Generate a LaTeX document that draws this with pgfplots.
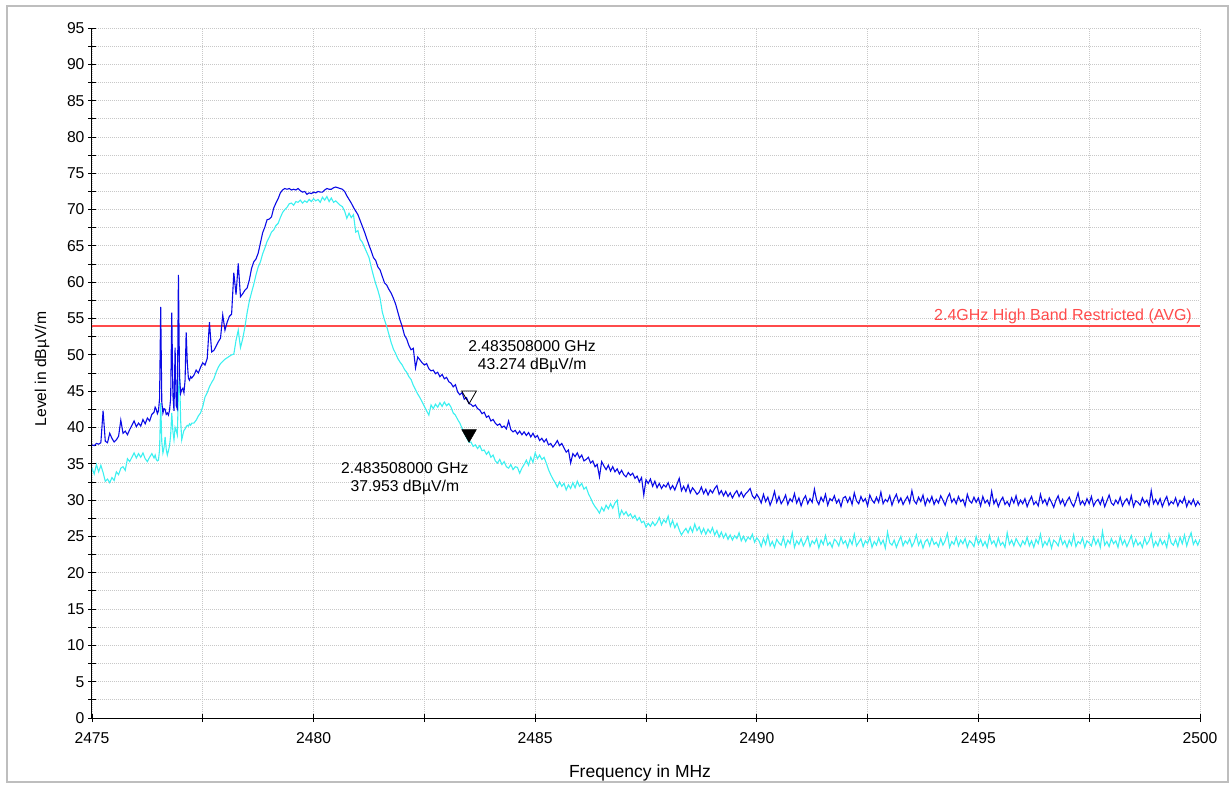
\documentclass[border=0pt]{standalone}
\usepackage{fontspec}
\setmainfont{Liberation Sans}
\usepackage{pgfplots}
\usepackage{pgfplotstable}
\pgfplotsset{compat=1.18}

\definecolor{tracepk}{RGB}{10,10,230}
\definecolor{traceav}{RGB}{60,240,240}
\definecolor{limitred}{RGB}{255,75,75}
\definecolor{gridgray}{RGB}{200,200,200}
\definecolor{framegray}{RGB}{190,190,190}

% f [MHz], b = peak trace, c = average trace [dBuV/m]
\pgfplotstableread{
f b c
2475.00 37.6 34.4
2475.05 37.5 33.6
2475.10 37.8 34.9
2475.15 37.7 33.9
2475.20 37.9 34.8
2475.25 42.3 33.8
2475.30 38.1 32.6
2475.35 37.9 32.9
2475.40 39.2 32.4
2475.45 38.5 33.1
2475.50 38.0 32.7
2475.55 38.3 33.9
2475.60 38.8 33.5
2475.65 41.0 34.4
2475.70 39.2 34.6
2475.75 39.5 34.1
2475.80 39.0 35.7
2475.85 39.7 35.3
2475.90 40.3 35.9
2475.95 40.9 36.5
2476.00 40.1 35.8
2476.05 40.6 36.4
2476.10 40.2 35.9
2476.15 41.1 36.5
2476.20 40.5 35.7
2476.25 41.3 35.3
2476.30 40.9 35.9
2476.35 41.8 36.4
2476.40 42.1 35.8
2476.425 42.8 36.2
2476.450 42.5 35.6
2476.475 41.9 35.4
2476.500 42.3 35.5
2476.525 44.0 37.0
2476.550 56.6 43.4
2476.575 43.5 38.0
2476.600 42.0 36.5
2476.625 42.6 37.2
2476.650 42.5 38.7
2476.675 41.8 37.0
2476.700 42.0 36.2
2476.725 41.7 36.8
2476.750 42.4 37.5
2476.775 44.0 39.0
2476.800 55.8 42.0
2476.825 44.5 39.5
2476.850 42.3 38.3
2476.875 51.0 40.0
2476.900 43.0 39.6
2476.925 42.6 39.0
2476.950 61.0 44.7
2476.975 47.0 47.6
2477.000 44.7 41.0
2477.025 45.2 38.3
2477.050 45.4 39.0
2477.075 44.8 39.6
2477.100 46.5 39.8
2477.125 53.1 40.1
2477.150 49.0 40.3
2477.175 46.8 40.2
2477.200 46.5 40.5
2477.225 47.0 40.3
2477.250 46.8 40.6
2477.30 47.2 40.6
2477.35 47.9 41.0
2477.40 47.5 41.6
2477.45 48.3 42.0
2477.50 48.9 42.9
2477.55 48.6 44.2
2477.60 49.5 44.8
2477.65 54.5 45.6
2477.70 50.4 46.2
2477.75 50.6 46.7
2477.80 51.2 47.6
2477.85 51.8 48.3
2477.90 52.3 48.8
2477.95 55.5 49.1
2478.00 53.4 49.4
2478.05 54.5 49.6
2478.10 55.3 49.8
2478.15 55.6 50.0
2478.20 61.3 50.1
2478.25 58.3 52.0
2478.30 62.6 53.4
2478.35 58.0 51.0
2478.40 58.4 52.2
2478.45 58.9 53.8
2478.50 59.2 55.8
2478.55 60.3 57.4
2478.60 61.9 58.6
2478.65 62.8 59.7
2478.70 63.2 61.0
2478.75 64.0 62.1
2478.80 65.4 62.8
2478.85 66.8 63.9
2478.90 67.6 64.7
2478.95 68.6 65.6
2479.00 68.7 66.2
2479.05 69.0 66.9
2479.10 70.2 67.2
2479.15 70.9 67.8
2479.20 71.5 68.1
2479.25 72.3 68.9
2479.30 72.7 69.6
2479.35 72.9 70.0
2479.40 72.8 70.3
2479.45 72.9 70.8
2479.50 72.7 70.9
2479.55 72.8 70.6
2479.60 72.7 71.1
2479.65 72.9 71.0
2479.70 72.6 71.3
2479.75 72.4 70.9
2479.80 72.5 71.2
2479.85 72.1 71.0
2479.90 72.3 71.4
2479.95 72.2 71.1
2480.00 72.4 71.5
2480.05 72.3 71.2
2480.10 72.5 71.4
2480.15 72.4 71.0
2480.20 72.4 71.7
2480.25 72.7 71.3
2480.30 72.9 71.8
2480.35 72.8 71.1
2480.40 72.8 71.6
2480.45 73.0 71.0
2480.50 73.1 71.2
2480.55 73.0 70.9
2480.60 72.9 70.6
2480.65 72.8 70.4
2480.70 72.5 69.8
2480.75 71.9 68.8
2480.80 71.4 69.5
2480.85 70.9 68.9
2480.90 70.3 69.3
2480.95 69.8 66.9
2481.00 69.3 67.1
2481.05 68.5 65.9
2481.10 67.7 65.5
2481.15 66.9 64.8
2481.20 66.0 64.1
2481.25 65.1 63.4
2481.30 64.3 62.1
2481.35 63.4 60.9
2481.40 63.0 59.8
2481.45 62.1 58.9
2481.50 61.7 57.8
2481.55 60.8 55.9
2481.60 59.9 54.8
2481.65 59.6 53.9
2481.70 59.0 52.8
2481.75 58.5 51.7
2481.80 57.8 50.8
2481.85 57.0 50.2
2481.90 55.9 49.5
2481.95 54.8 49.0
2482.00 53.9 48.6
2482.05 52.7 48.0
2482.10 52.2 47.6
2482.15 51.3 47.0
2482.20 50.7 46.6
2482.25 50.9 45.8
2482.30 48.2 45.2
2482.35 49.7 44.6
2482.40 49.3 44.1
2482.45 48.9 43.5
2482.50 48.6 42.9
2482.55 48.8 42.3
2482.60 48.1 41.7
2482.65 47.8 43.1
2482.70 47.9 42.6
2482.75 47.4 43.2
2482.80 47.6 42.8
2482.85 47.0 43.4
2482.90 47.3 42.9
2482.95 46.7 43.5
2483.00 46.9 43.0
2483.05 46.3 43.3
2483.10 46.1 42.8
2483.15 45.6 42.0
2483.20 45.9 41.7
2483.25 44.9 41.1
2483.30 44.5 40.6
2483.35 44.8 39.9
2483.40 43.9 39.2
2483.45 44.1 38.6
2483.508 43.274 37.953
2483.55 43.2 38.0
2483.60 42.9 37.4
2483.65 43.1 37.6
2483.70 42.6 37.1
2483.75 42.4 37.5
2483.80 41.9 36.8
2483.85 42.1 36.9
2483.90 41.4 36.3
2483.95 41.6 36.7
2484.00 40.9 35.9
2484.05 41.1 36.2
2484.10 40.6 35.4
2484.15 40.3 35.1
2484.20 40.5 35.6
2484.25 40.0 34.9
2484.30 40.2 35.3
2484.35 39.8 34.6
2484.40 40.9 34.4
2484.45 39.7 34.9
2484.50 39.4 34.2
2484.55 39.6 34.6
2484.60 39.1 34.5
2484.65 39.5 33.7
2484.70 39.0 34.4
2484.75 39.4 34.9
2484.80 38.9 35.5
2484.85 39.3 34.8
2484.90 38.7 35.9
2484.95 39.2 35.2
2485.00 38.6 36.5
2485.05 38.9 35.7
2485.10 38.2 36.2
2485.15 38.5 35.6
2485.20 38.0 35.9
2485.25 38.4 35.1
2485.30 37.6 34.2
2485.35 37.8 33.5
2485.40 37.3 32.9
2485.45 37.7 32.4
2485.50 38.2 31.8
2485.55 37.5 32.5
2485.60 37.8 31.9
2485.65 37.2 32.3
2485.70 36.6 31.4
2485.75 36.9 32.1
2485.80 35.1 31.6
2485.85 36.4 32.4
2485.90 36.0 31.7
2485.95 36.5 32.6
2486.00 35.8 31.9
2486.05 36.2 32.3
2486.10 35.4 31.5
2486.15 35.6 31.8
2486.20 35.9 30.9
2486.25 35.1 30.3
2486.30 35.4 29.6
2486.35 34.6 29.1
2486.40 34.9 28.7
2486.45 33.2 28.2
2486.50 35.3 29.0
2486.55 34.7 28.5
2486.60 34.2 29.3
2486.65 34.8 28.8
2486.70 34.0 29.5
2486.75 34.6 28.9
2486.80 33.9 29.6
2486.85 34.3 30.0
2486.90 33.6 27.7
2486.95 34.1 28.6
2487.00 33.5 28.0
2487.05 33.2 28.4
2487.10 33.8 27.8
2487.15 33.4 28.1
2487.20 33.7 27.5
2487.25 33.0 27.9
2487.30 33.3 27.2
2487.35 32.5 27.6
2487.40 33.1 26.9
2487.45 30.7 27.1
2487.50 32.8 26.3
2487.55 32.3 26.8
2487.60 32.9 26.4
2487.65 31.9 27.0
2487.70 32.6 26.5
2487.75 31.7 26.9
2487.80 32.3 27.6
2487.85 31.6 26.6
2487.90 32.1 27.3
2487.95 31.8 26.9
2488.00 32.4 27.8
2488.05 31.5 26.4
2488.10 32.0 27.2
2488.15 31.4 26.2
2488.20 32.2 26.8
2488.25 33.0 25.9
2488.30 31.3 25.2
2488.35 31.9 25.7
2488.40 31.2 26.1
2488.45 32.1 25.5
2488.50 31.0 26.3
2488.55 31.7 25.6
2488.60 31.3 26.7
2488.65 30.8 25.8
2488.70 31.1 26.3
2488.75 31.8 25.4
2488.80 30.9 26.1
2488.85 31.5 25.3
2488.90 30.7 26.0
2488.95 31.4 25.5
2489.00 31.0 26.2
2489.05 31.6 25.2
2489.10 32.0 25.8
2489.15 30.8 24.9
2489.20 31.3 25.6
2489.25 30.6 24.8
2489.30 31.2 25.4
2489.35 30.5 24.6
2489.40 31.0 25.2
2489.45 30.3 24.5
2489.50 30.9 25.1
2489.55 31.3 24.7
2489.60 30.5 25.5
2489.65 31.1 24.4
2489.70 30.4 25.0
2489.75 30.9 24.3
2489.80 31.2 24.9
2489.85 31.6 24.6
2489.90 30.6 25.3
2489.95 30.2 24.2
2490.00 30.8 24.8
2490.05 30.3 24.4
2490.10 29.6 23.6
2490.15 30.8 24.7
2490.20 29.8 23.9
2490.25 30.4 25.2
2490.30 29.3 23.7
2490.35 30.1 24.3
2490.40 31.2 23.5
2490.45 29.7 24.6
2490.50 30.5 24.1
2490.55 29.5 23.8
2490.60 30.0 24.9
2490.65 30.7 23.6
2490.70 29.4 24.5
2490.75 30.2 24.0
2490.80 29.8 25.5
2490.85 30.9 23.5
2490.90 29.6 24.4
2490.95 30.3 23.9
2491.00 29.2 24.7
2491.05 30.1 23.7
2491.10 30.6 24.3
2491.15 29.5 25.0
2491.20 30.2 23.6
2491.25 29.7 24.4
2491.30 31.5 24.0
2491.35 30.0 24.7
2491.40 29.4 23.4
2491.45 30.4 24.5
2491.50 29.8 23.9
2491.55 30.8 25.1
2491.60 29.3 23.8
2491.65 30.2 24.2
2491.70 29.9 23.5
2491.75 30.6 24.6
2491.80 29.6 24.3
2491.85 30.1 23.7
2491.90 29.1 24.9
2491.95 30.3 24.0
2492.00 30.5 24.4
2492.05 29.7 23.5
2492.10 30.4 24.6
2492.15 29.4 23.9
2492.20 31.0 25.3
2492.25 29.9 23.7
2492.30 29.5 24.2
2492.35 30.5 24.7
2492.40 29.8 23.6
2492.45 30.2 24.4
2492.50 29.2 24.0
2492.55 30.7 24.9
2492.60 30.0 23.5
2492.65 29.6 24.3
2492.70 30.4 23.8
2492.75 29.7 24.8
2492.80 31.1 23.9
2492.85 29.5 24.5
2492.90 30.1 23.4
2492.95 29.8 25.6
2493.00 30.6 24.1
2493.05 29.3 23.8
2493.10 30.2 24.5
2493.15 30.8 23.5
2493.20 29.7 24.3
2493.25 30.3 25.0
2493.30 29.4 23.7
2493.35 30.0 24.4
2493.40 30.5 24.0
2493.45 29.6 24.7
2493.50 31.3 23.6
2493.55 29.9 24.2
2493.60 29.5 25.2
2493.65 30.4 23.8
2493.70 29.8 24.5
2493.75 30.7 23.4
2493.80 29.3 24.3
2493.85 30.2 24.6
2493.90 29.7 23.7
2493.95 30.5 24.8
2494.00 29.4 23.9
2494.05 30.1 24.2
2494.10 29.6 23.6
2494.15 30.6 24.7
2494.20 30.0 23.8
2494.25 29.3 24.4
2494.30 30.3 25.4
2494.35 30.9 23.5
2494.40 29.7 24.3
2494.45 30.2 23.9
2494.50 29.5 24.9
2494.55 30.5 23.7
2494.60 29.8 24.5
2494.65 30.1 24.0
2494.70 29.2 24.7
2494.75 30.8 23.5
2494.80 29.9 24.4
2494.85 29.6 24.1
2494.90 30.4 23.6
2494.95 29.7 25.0
2495.00 30.3 23.9
2495.05 29.2 24.6
2495.10 30.5 23.7
2495.15 29.6 24.3
2495.20 30.0 23.5
2495.25 29.3 25.1
2495.30 31.2 24.0
2495.35 29.5 24.4
2495.40 30.1 23.6
2495.45 29.1 24.8
2495.50 29.9 23.8
2495.55 30.4 24.2
2495.60 29.4 23.5
2495.65 29.8 25.5
2495.70 29.2 23.9
2495.75 30.3 24.5
2495.80 29.6 23.7
2495.85 30.6 24.7
2495.90 29.3 24.1
2495.95 30.0 23.6
2496.00 29.5 24.4
2496.05 30.2 23.9
2496.10 29.1 24.9
2496.15 29.9 23.7
2496.20 30.5 24.4
2496.25 29.4 23.5
2496.30 29.8 24.6
2496.35 29.2 24.0
2496.40 30.8 25.3
2496.45 29.6 23.6
2496.50 30.1 24.3
2496.55 29.3 23.8
2496.60 30.3 24.7
2496.65 29.7 23.4
2496.70 29.0 24.5
2496.75 30.0 24.2
2496.80 30.6 23.7
2496.85 29.5 25.0
2496.90 30.1 23.9
2496.95 29.2 24.4
2497.00 29.9 23.5
2497.05 30.4 24.5
2497.10 29.6 23.8
2497.15 29.1 25.2
2497.20 30.0 23.6
2497.25 31.0 24.3
2497.30 29.4 24.0
2497.35 29.9 24.8
2497.40 29.3 23.5
2497.45 30.2 24.4
2497.50 29.5 24.1
2497.55 30.5 23.7
2497.60 29.2 24.9
2497.65 29.8 23.9
2497.70 30.1 24.6
2497.75 29.4 23.5
2497.80 30.3 25.7
2497.85 29.1 23.8
2497.90 29.9 24.3
2497.95 30.7 23.6
2498.00 29.6 24.7
2498.05 29.3 24.0
2498.10 30.0 24.4
2498.15 29.5 23.5
2498.20 30.4 25.0
2498.25 29.2 23.9
2498.30 29.8 24.5
2498.35 30.2 23.6
2498.40 29.4 24.3
2498.45 30.6 25.1
2498.50 29.1 23.7
2498.55 29.9 24.6
2498.60 29.7 23.8
2498.65 29.3 24.2
2498.70 30.3 23.5
2498.75 29.6 24.8
2498.80 30.0 23.9
2498.85 29.2 24.4
2498.90 31.3 25.4
2498.95 29.5 23.6
2499.00 30.1 24.3
2499.05 29.4 23.7
2499.10 30.2 24.7
2499.15 29.1 23.9
2499.20 29.9 24.4
2499.25 30.5 23.5
2499.30 29.3 25.3
2499.35 29.8 24.1
2499.40 29.5 23.8
2499.45 30.3 24.6
2499.50 29.2 23.6
2499.55 30.0 24.9
2499.60 29.6 24.0
2499.65 30.4 25.2
2499.70 29.1 23.7
2499.75 29.9 24.7
2499.80 29.4 25.5
2499.85 30.1 23.9
2499.90 29.2 24.5
2499.95 29.8 23.8
2500.00 29.3 24.6
}\spectrum

\begin{document}
\begin{tikzpicture}
\begin{axis}[
  at={(0,0)}, anchor=south west,
  scale only axis, width=1108pt, height=690pt,
  xmin=2475, xmax=2500, ymin=0, ymax=95,
  axis lines*=left,
  axis line style={black, line width=1pt},
  xtick={2475,2480,2485,2490,2495,2500},
  xticklabels={2475,2480,2485,2490,2495,2500},
  minor xtick={2477.5,2482.5,2487.5,2492.5,2497.5},
  ytick={0,5,...,95},
  minor ytick={2.5,7.5,...,92.5},
  tick align=center,
  major tick length=8pt, minor tick length=8pt,
  tick style={black, line width=0.9pt},
  grid=both,
  major grid style={gridgray, line width=0.9pt, dash pattern=on 1pt off 1pt},
  minor grid style={gridgray, line width=0.9pt, dash pattern=on 1pt off 1pt},
  /pgf/number format/assume math mode=true,
  tick label style={font=\fontsize{15.7}{18}\selectfont},
  xticklabel style={yshift=-7pt},
  xlabel={Frequency in MHz},
  ylabel={Level in dBµV/m},
  every axis x label/.style={at={(axis description cs:0.4946,-0.0797)}, anchor=center, font=\fontsize{17.5}{20}\selectfont},
  every axis y label/.style={at={(axis description cs:-0.0451,0.5058)}, anchor=center, rotate=90, font=\fontsize{15.7}{18}\selectfont},
]
% limit line
\addplot[limitred, line width=2pt] coordinates {(2475,54) (2500,54)};
% average and peak traces
\addplot[traceav, line width=1.1pt] table[x=f, y=c] {\spectrum};
\addplot[tracepk, line width=1.1pt] table[x=f, y=b] {\spectrum};
% band-edge markers
\addplot[black, only marks, mark=triangle, mark size=8.5pt,
  mark options={yshift=8.5pt, rotate=180, line width=0.8pt}] coordinates {(2483.508,43.274)};
\addplot[black, only marks, mark=triangle*, mark size=8.5pt,
  mark options={yshift=8.5pt, rotate=180}] coordinates {(2483.508,37.953)};
\node[limitred, anchor=east, inner sep=0pt, font=\fontsize{16}{18}\selectfont]
  at (axis cs:2499.82,55.3) {2.4GHz High Band Restricted (AVG)};
\node[align=center, inner sep=0pt, font=\fontsize{15.7}{18}\selectfont]
  at (axis cs:2484.93,49.7) {2.483508000 GHz\\43.274 dBµV/m};
\node[align=center, inner sep=0pt, font=\fontsize{15.7}{18}\selectfont]
  at (axis cs:2482.06,33.0) {2.483508000 GHz\\37.953 dBµV/m};
\end{axis}
\draw[framegray, line width=1.5pt] (-85pt,-64pt) rectangle (1136pt,712pt);
\pgfresetboundingbox
\path[use as bounding box] (-92pt,-67pt) rectangle (1138pt,718pt);
\end{tikzpicture}
\end{document}
